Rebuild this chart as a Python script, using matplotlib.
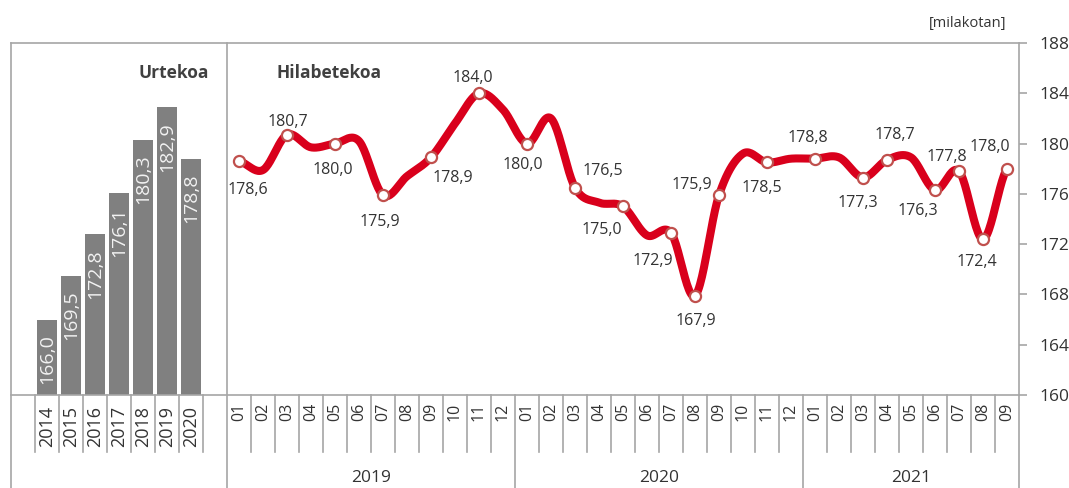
import numpy as np
import matplotlib
matplotlib.use("Agg")
import matplotlib.pyplot as plt

plt.rcParams['font.family'] = ['Open Sans', 'DejaVu Sans']

# ---------------------------------------------------------------------------
# Data
# ---------------------------------------------------------------------------
YEARS = ["2014", "2015", "2016", "2017", "2018", "2019", "2020"]
ANNUAL = [166.0, 169.5, 172.8, 176.1, 180.3, 182.9, 178.8]

MONTHS = ["01", "02", "03", "04", "05", "06", "07", "08", "09", "10", "11", "12",
          "01", "02", "03", "04", "05", "06", "07", "08", "09", "10", "11", "12",
          "01", "02", "03", "04", "05", "06", "07", "08", "09"]
MONTH_YEARS = ["2019", "2020", "2021"]
MONTHLY = [178.6, 177.9, 180.7, 179.7, 180.0, 180.2, 175.9, 177.4, 178.9, 181.6, 184.0, 182.7,
           180.0, 182.0, 176.5, 175.3, 175.0, 172.7, 172.9, 167.9, 175.9, 179.2, 178.5, 178.8,
           178.8, 178.9, 177.3, 178.7, 178.9, 176.3, 177.8, 172.4, 178.0]
# months that carry a marker and a value label
LABELLED = [0, 2, 4, 6, 8, 10, 12, 14, 16, 18, 19, 20, 22, 24, 26, 27, 29, 30, 31, 32]

# label offsets in pixels (dx, dy up) from each marker
LABEL_OFFSETS = {0: (9, -29), 2: (1, 13), 4: (-2, -26), 6: (-3, -27), 8: (22, -21),
                 10: (-6, 15), 12: (-4, -21), 14: (28, 17), 16: (-21, -24),
                 18: (-18, -28), 19: (1, -25), 20: (-27, 10), 22: (-5, -26),
                 24: (-7, 21), 26: (-5, -25), 27: (8, 25), 29: (-17, -21),
                 30: (-12, 14), 31: (-6, -23), 32: (-17, 22)}

W, H = 1069, 488
AX_TOP, AX_BOT, AX_LEFT, AX_RIGHT = 43, 395, 11, 1019
GRAY = "#A6A6A6"
TXT = "#333333"
RED = "#D9001C"


def fmt(v):
    return f"{v:.1f}".replace(".", ",")


def smooth(x, y, n=24):
    """Excel-style smoothed line (cubic Bezier, Catmull-Rom control points)."""
    x = np.asarray(x, float)
    y = np.asarray(y, float)
    px = np.concatenate([[2 * x[0] - x[1]], x, [2 * x[-1] - x[-2]]])
    py = np.concatenate([[y[0]], y, [y[-1]]])
    t = np.linspace(0, 1, n, endpoint=False)
    xs, ys = [], []
    for i in range(1, len(px) - 2):
        for arr, out in ((px, xs), (py, ys)):
            p0, p1, p2, p3 = arr[i - 1], arr[i], arr[i + 1], arr[i + 2]
            c1 = p1 + (p2 - p0) / 6
            c2 = p2 - (p3 - p1) / 6
            out.append((1 - t) ** 3 * p1 + 3 * (1 - t) ** 2 * t * c1
                       + 3 * (1 - t) * t ** 2 * c2 + t ** 3 * p2)
    xs.append([x[-1]])
    ys.append([y[-1]])
    return np.concatenate(xs), np.concatenate(ys)


fig = plt.figure(figsize=(W / 100, H / 100), dpi=100)
ax = fig.add_axes([AX_LEFT / W, (H - AX_BOT) / H,
                   (AX_RIGHT - AX_LEFT) / W, (AX_BOT - AX_TOP) / H])

bar_x = np.arange(1, 1 + len(YEARS))
month_x = np.arange(9, 9 + len(MONTHS))
ax.set_xlim(-0.5, 41.5)
ax.set_ylim(160, 188)

# annual bars
ax.bar(bar_x, [v - 160 for v in ANNUAL], bottom=160, width=0.87, color="#808080", zorder=2)
for x, v in zip(bar_x, ANNUAL):
    ax.annotate(fmt(v), (x, v), xytext=(0, -15), textcoords="offset pixels",
                rotation=90, ha="center", va="top", color="#F2F2F2", fontsize=14)

# monthly smoothed line
sx, sy = smooth(month_x, MONTHLY)
ax.plot(sx, sy, color=RED, lw=5.8, solid_capstyle="round", zorder=3)
mx = [month_x[i] for i in LABELLED]
my = [MONTHLY[i] for i in LABELLED]
ax.plot(mx, my, "o", ms=8, mfc="white", mec="#C0504D", mew=1.6, zorder=4)
for i in LABELLED:
    dx, dy = LABEL_OFFSETS[i]
    ax.annotate(fmt(MONTHLY[i]), (month_x[i], MONTHLY[i]), xytext=(dx, dy),
                textcoords="offset pixels", ha="center", va="center",
                color=TXT, fontsize=11.5, zorder=5)

# axes styling
for s in ("left", "bottom"):
    ax.spines[s].set_visible(False)
for s in ("top", "right"):
    ax.spines[s].set_color(GRAY)
    ax.spines[s].set_linewidth(1.2)
ax.set_xticks([])
ax.yaxis.tick_right()
ax.set_yticks(range(160, 189, 4))
ax.tick_params(axis="y", length=5.5, width=1.2, color=GRAY, labelsize=12.5,
               pad=9, labelcolor=TXT)


def ay(ypx):
    return (AX_BOT - ypx) / (AX_BOT - AX_TOP)


tr = ax.get_xaxis_transform()


def vline(x, y0, y1):
    ax.plot([x, x], [ay(y0), ay(y1)], color=GRAY, lw=1.2, transform=tr, clip_on=False)


# frame and separators
ax.plot([-0.5, 41.5], [0, 0], color=GRAY, lw=1.2, transform=tr, clip_on=False, zorder=3)
vline(-0.5, AX_TOP, H)
vline(8.5, AX_TOP, H)
vline(41.5, AX_BOT, H)
for x in np.arange(0.5, 8, 1):
    vline(x, AX_BOT, 452)
for x in np.arange(9.5, 41, 1):
    vline(x, AX_BOT, H if x in (20.5, 32.5) else 452)

# category labels
for x, lab in zip(bar_x, YEARS):
    ax.text(x, ay(406), lab, rotation=90, ha="center", va="top", transform=tr,
            fontsize=13, color=TXT)
for x, lab in zip(month_x, MONTHS):
    ax.text(x, ay(403), lab, rotation=90, ha="center", va="top", transform=tr,
            fontsize=11.5, color=TXT)
for lab, (a, b) in zip(MONTH_YEARS, [(9, 20), (21, 32), (33, 41)]):
    ax.text((a + b) / 2, ay(478), lab, ha="center", va="center", transform=tr,
            fontsize=12.5, color=TXT)

# titles
fig.text(209 / W, 1 - 73 / H, "Urtekoa", ha="right", va="center", fontsize=12.5,
         fontweight="bold", color="#404040")
fig.text(277 / W, 1 - 73 / H, "Hilabetekoa", ha="left", va="center", fontsize=12.5,
         fontweight="bold", color="#404040")
fig.text(968 / W, 1 - 24 / H, "[milakotan]", ha="center", va="center", fontsize=10.5,
         color=TXT)

fig.savefig("out.png", dpi=100)
